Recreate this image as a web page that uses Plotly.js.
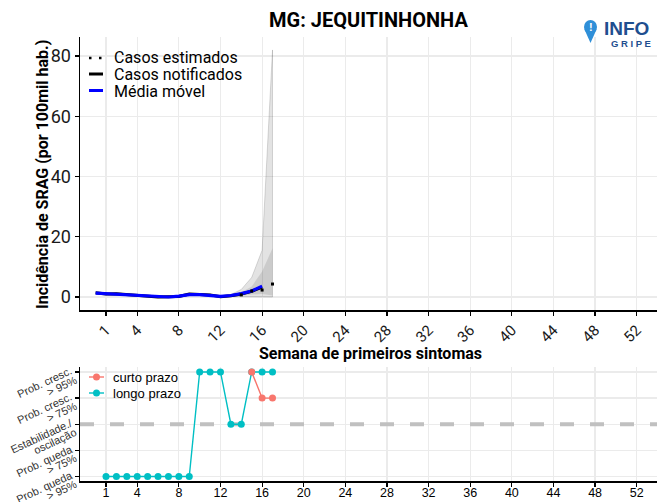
<!DOCTYPE html>
<html>
<head>
<meta charset="utf-8">
<script src="https://cdn.plot.ly/plotly-3.0.1.min.js"></script>
<style>html,body{margin:0;padding:0;background:#fff;}#chart{width:658px;height:502px;}</style>
</head>
<body>
<div id="chart"></div>
<script>
// ---- data ----
const weeksNotif = [0,1,2,3,4,5,6,7,8,9,10,11,12,13,14,15,16];
const casosNotificados = [1.4,1.0,1.1,0.8,0.7,0.4,0.0,0.1,0.2,1.0,0.8,0.7,0.1,0.4,1.0,1.9,3.3];
const mediaMovel = [1.3,1.1,1.0,0.9,0.7,0.5,0.1,0.0,0.3,0.8,0.8,0.6,0.2,0.5,1.1,2.0,3.6];
const weeksEst = [14,15,16,17];
const casosEstimados = [0.7,2.0,2.3,4.3];
const weeksRibbon = [12,13,14,15,16,17];
const outerLower = [0.2,0.2,0.1,0.1,0.05,0.0];
const outerUpper = [0.3,0.8,2.5,6.5,15.5,82];
const innerLower = [0.2,0.3,0.4,0.8,1.0,0.5];
const innerUpper = [0.25,0.6,1.6,3.5,8.5,16.2];

const weeksLongo = [1,2,3,4,5,6,7,8,9,10,11,12,13,14,15,16,17];
const longoPrazo = [0,0,0,0,0,0,0,0,0,4,4,4,2,2,4,4,4];
const weeksCurto = [15,16,17];
const curtoPrazo = [4,3,3];

const weekTicks = [1,4,8,12,16,20,24,28,32,36,40,44,48,52];
const yTicksTop = [0,20,40,60,80];
const levelVals = [0,1,2,3,4];
const levelLabels = [["Prob. queda","> 95%"],["Prob. queda","> 75%"],["Estabilidade./","oscilação"],["Prob. cresc.","> 75%"],["Prob. cresc.","> 95%"]];
const stableLevel = 2;
const xRange = [-1.5, 53.95];

// ---- helpers (pixel -> paper) ----
const L=80, R=1, T=37, B=21, W=658, H=502;
const pw = W-L-R, ph = H-T-B;
const px = x => (x-L)/pw;
const py = y => (H-B-y)/ph;
const bottomTop = 366.7, bottomBot = H-B;
const y2Range = [-0.17, 4.2];
const levelPx = v => bottomBot - (v - y2Range[0])/(y2Range[1]-y2Range[0])*(bottomBot-bottomTop);

const ROBOTO = "Roboto, sans-serif";
const ARIAL = "Liberation Sans, Arial, sans-serif";

function band(xs, lo, hi){
  return {x: xs.concat(xs.slice().reverse()), y: hi.concat(lo.slice().reverse())};
}
const ob = band(weeksRibbon, outerLower, outerUpper);
const ib = band(weeksRibbon, innerLower, innerUpper);

const traces = [
  {x: ob.x, y: ob.y, xaxis:'x', yaxis:'y', type:'scatter', mode:'lines', fill:'toself',
   fillcolor:'rgba(0,0,0,0.11)', line:{color:'rgba(0,0,0,0.18)', width:0.8}, hoverinfo:'skip'},
  {x: ib.x, y: ib.y, xaxis:'x', yaxis:'y', type:'scatter', mode:'lines', fill:'toself',
   fillcolor:'rgba(0,0,0,0.10)', line:{width:0}, hoverinfo:'skip'},
  {x: weeksNotif, y: casosNotificados, xaxis:'x', yaxis:'y', type:'scatter', mode:'lines',
   line:{color:'#000', width:3}, name:'Casos notificados'},
  {x: weeksNotif, y: mediaMovel, xaxis:'x', yaxis:'y', type:'scatter', mode:'lines',
   line:{color:'#0000ff', width:3.2}, name:'Média móvel'},
  {x: weeksEst, y: casosEstimados, xaxis:'x', yaxis:'y', type:'scatter', mode:'markers',
   marker:{color:'#000', size:3, symbol:'square'}, name:'Casos estimados'},
  {x: xRange, y: [stableLevel, stableLevel], xaxis:'x2', yaxis:'y2', type:'scatter', mode:'lines',
   line:{color:'#c0c0c0', width:4, dash:'14px,16px'}, hoverinfo:'skip'},
  {x: weeksLongo, y: longoPrazo, xaxis:'x2', yaxis:'y2', type:'scatter', mode:'lines+markers',
   line:{color:'#00BFC4', width:1.4}, marker:{color:'#00BFC4', size:7}, name:'longo prazo'},
  {x: weeksCurto, y: curtoPrazo, xaxis:'x2', yaxis:'y2', type:'scatter', mode:'lines+markers',
   line:{color:'#F8766D', width:1.4}, marker:{color:'#F8766D', size:7}, name:'curto prazo'}
];

const axCommon = {
  range:xRange, tickvals: weekTicks, ticktext: weekTicks.map(String),
  showline:true, linecolor:'#000', linewidth:1.5, ticks:'outside', ticklen:4, tickcolor:'#000', tickwidth:1.2,
  showgrid:true, gridcolor:'#ebebeb', gridwidth:1.2, zeroline:false, fixedrange:true
};

const shapes = [
  // top legend symbols
  {type:'line', xref:'paper', yref:'paper', x0:px(89), x1:px(104), y0:py(58), y1:py(58),
   line:{color:'#000', width:2.5, dash:'2.5px,7.5px'}},
  {type:'line', xref:'paper', yref:'paper', x0:px(89), x1:px(103), y0:py(74), y1:py(74),
   line:{color:'#000', width:3}},
  {type:'line', xref:'paper', yref:'paper', x0:px(89), x1:px(103), y0:py(90.5), y1:py(90.5),
   line:{color:'#0000ff', width:3}},
  // bottom legend symbols
  {type:'line', xref:'paper', yref:'paper', x0:px(89), x1:px(104), y0:py(377), y1:py(377),
   line:{color:'#F8766D', width:1.4}},
  {type:'circle', xref:'paper', yref:'paper', x0:px(93), x1:px(100), y0:py(373.5), y1:py(380.5),
   fillcolor:'#F8766D', line:{width:0}},
  {type:'line', xref:'paper', yref:'paper', x0:px(89), x1:px(104), y0:py(393), y1:py(393),
   line:{color:'#00BFC4', width:1.4}},
  {type:'circle', xref:'paper', yref:'paper', x0:px(93), x1:px(100), y0:py(389.5), y1:py(396.5),
   fillcolor:'#00BFC4', line:{width:0}},
  // logo pin
  {type:'circle', xref:'paper', yref:'paper', x0:px(584), x1:px(597), y0:py(20), y1:py(34),
   fillcolor:'#2f8fd8', line:{width:0}},
  {type:'path', xref:'paper', yref:'paper',
   path:'M '+px(584.5)+','+py(29.5)+' L '+px(596.5)+','+py(29.5)+' L '+px(590.5)+','+py(43)+' Z',
   fillcolor:'#2f8fd8', line:{width:0}}
];

const annotations = [
  {text:'MG: JEQUITINHONHA', xref:'paper', yref:'paper', x:px(368.5), y:py(20), showarrow:false,
   xanchor:'center', yanchor:'middle', font:{family:ROBOTO, size:20, weight:700, color:'#000'}},
  {text:'Incidência de SRAG (por 100mil hab.)', xref:'paper', yref:'paper', x:px(42), y:py(175), showarrow:false,
   textangle:-90, xanchor:'center', yanchor:'middle', font:{family:ROBOTO, size:16, weight:700, color:'#000'}},
  {text:'Semana de primeiros sintomas', xref:'paper', yref:'paper', x:px(370), y:py(353), showarrow:false,
   xanchor:'center', yanchor:'middle', font:{family:ROBOTO, size:16, weight:700, color:'#000'}},
  {text:'Casos estimados', xref:'paper', yref:'paper', x:px(112), y:py(58), showarrow:false,
   xanchor:'left', yanchor:'middle', font:{family:ROBOTO, size:16, color:'#000'}},
  {text:'Casos notificados', xref:'paper', yref:'paper', x:px(112), y:py(74.5), showarrow:false,
   xanchor:'left', yanchor:'middle', font:{family:ROBOTO, size:16, color:'#000'}},
  {text:'Média móvel', xref:'paper', yref:'paper', x:px(112), y:py(91), showarrow:false,
   xanchor:'left', yanchor:'middle', font:{family:ROBOTO, size:16, color:'#000'}},
  {text:'curto prazo', xref:'paper', yref:'paper', x:px(111), y:py(377), showarrow:false,
   xanchor:'left', yanchor:'middle', font:{family:ARIAL, size:13, color:'#000'}},
  {text:'longo prazo', xref:'paper', yref:'paper', x:px(111), y:py(393), showarrow:false,
   xanchor:'left', yanchor:'middle', font:{family:ARIAL, size:13, color:'#000'}},
  {text:'!', xref:'paper', yref:'paper', x:px(590.5), y:py(27), showarrow:false,
   xanchor:'center', yanchor:'middle', font:{family:ARIAL, size:11, weight:700, color:'#fff'}},
  {text:'INFO', xref:'paper', yref:'paper', x:px(626.5), y:py(28.5), showarrow:false,
   xanchor:'center', yanchor:'middle', font:{family:'Liberation Sans, Arial', size:19, weight:700, color:'#1f4f8f'}},
  {text:'G R I P E', xref:'paper', yref:'paper', x:px(631), y:py(44), showarrow:false,
   xanchor:'center', yanchor:'middle', font:{family:'Liberation Sans, Arial', size:9.5, weight:700, color:'#1f4f8f'}}
];

// bottom y-axis labels: rotated two-line labels, right-aligned
const LABEL_SIZE = 11;
const ctx = document.createElement('canvas').getContext('2d');
ctx.font = LABEL_SIZE + 'px "Liberation Sans", Arial, sans-serif';
const th = 25*Math.PI/180, cs = Math.cos(th), sn = Math.sin(th);
levelVals.forEach((lv, i) => {
  const t = levelPx(lv);
  const E1 = [71.5, t-2.5];
  const gap = 10.5;
  const ends = [E1, [E1[0]+gap*sn, E1[1]+gap*cs]];
  levelLabels[i].forEach((line, j) => {
    const w = ctx.measureText(line).width;
    const cx = ends[j][0] - (w/2)*cs, cy = ends[j][1] + (w/2)*sn;
    annotations.push({text: line, xref:'paper', yref:'paper', x:px(cx), y:py(cy), showarrow:false,
      textangle:-25, xanchor:'center', yanchor:'middle', borderpad:0,
      font:{family:ARIAL, size:LABEL_SIZE, color:'#333'}});
  });
});

const layout = {
  width:W, height:H, margin:{l:L, r:R, t:T, b:B}, paper_bgcolor:'#fff', plot_bgcolor:'#fff',
  showlegend:false,
  xaxis: Object.assign({}, axCommon, {anchor:'y', tickangle:-45,
    tickfont:{family:ROBOTO, size:15, color:'#1a1a1a'}}),
  yaxis: {domain:[py(310), 1], anchor:'x', range:[-4.32, 86.3], tickvals:yTicksTop,
    showline:true, linecolor:'#000', linewidth:1.5, ticks:'outside', ticklen:4, tickcolor:'#000', tickwidth:1.2,
    showgrid:true, gridcolor:'#ebebeb', gridwidth:1.2, zeroline:false, fixedrange:true,
    tickfont:{family:ROBOTO, size:18, color:'#1a1a1a'}},
  xaxis2: Object.assign({}, axCommon, {anchor:'y2', tickangle:0, ticklabelstandoff:-5,
    tickfont:{family:ARIAL, size:12.5, color:'#000'}}),
  yaxis2: {domain:[0, py(bottomTop)], anchor:'x2', range:y2Range, tickvals:levelVals,
    showticklabels:false, showline:true, linecolor:'#000', linewidth:1.5, ticks:'outside', ticklen:4, tickcolor:'#000', tickwidth:1.2,
    showgrid:true, gridcolor:'#ebebeb', gridwidth:1.2, zeroline:false, fixedrange:true},
  shapes: shapes,
  annotations: annotations
};

Plotly.newPlot('chart', traces, layout, {displayModeBar:false, staticPlot:true});
</script>
</body>
</html>
